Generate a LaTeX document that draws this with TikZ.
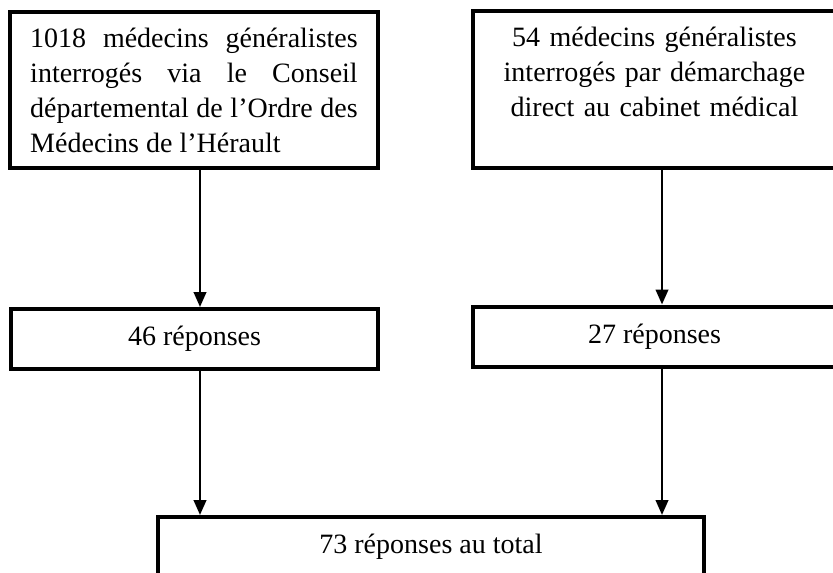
\documentclass[tikz,border=0pt]{standalone}
\usepackage{fontspec}
\setmainfont{Liberation Serif}
\usetikzlibrary{arrows.meta}
\tikzset{boite/.style={draw,line width=1.6pt,inner xsep=8pt,inner ysep=0pt},
  haute/.style={boite,minimum height=62.4pt},
  basse/.style={boite,minimum height=24pt}}
\begin{document}
\begin{tikzpicture}[x=0.4pt,y=-0.4pt,>={Triangle[width=5pt,length=6pt]},font=\fontsize{11.2}{14}\selectfont]
  \useasboundingbox (0,0) rectangle (833,573);
  \node[haute,text width=131pt,align=justify,execute at begin node={\hyphenpenalty=10000\tolerance=9999}] (cons) at (194,90) {1018 médecins généralistes interrogés via le Conseil départemental de l’Ordre des Médecins de l’Hérault};
  \node[haute,text width=129.2pt,align=center] (cab) at (654.5,89.5) {54 médecins généralistes\\ interrogés par démarchage\\ direct au cabinet médical\\ \mbox{}};
  \node[basse,minimum width=146.8pt] (rep1) at (194.5,339) {46 réponses};
  \node[basse,minimum width=145.2pt] (rep2) at (654.5,336.5) {27 réponses};
  \node[basse,minimum width=218.4pt] (tot) at (431,547) {73 réponses au total};
  \coordinate (xg) at (200,0);
  \coordinate (xd) at (662,0);
  \draw[->,line width=1pt] (cons.south -| xg) -- (rep1.north -| xg);
  \draw[->,line width=1pt] (cab.south -| xd) -- (rep2.north -| xd);
  \draw[->,line width=1pt] (rep1.south -| xg) -- (tot.north -| xg);
  \draw[->,line width=1pt] (rep2.south -| xd) -- (tot.north -| xd);
\end{tikzpicture}
\end{document}
